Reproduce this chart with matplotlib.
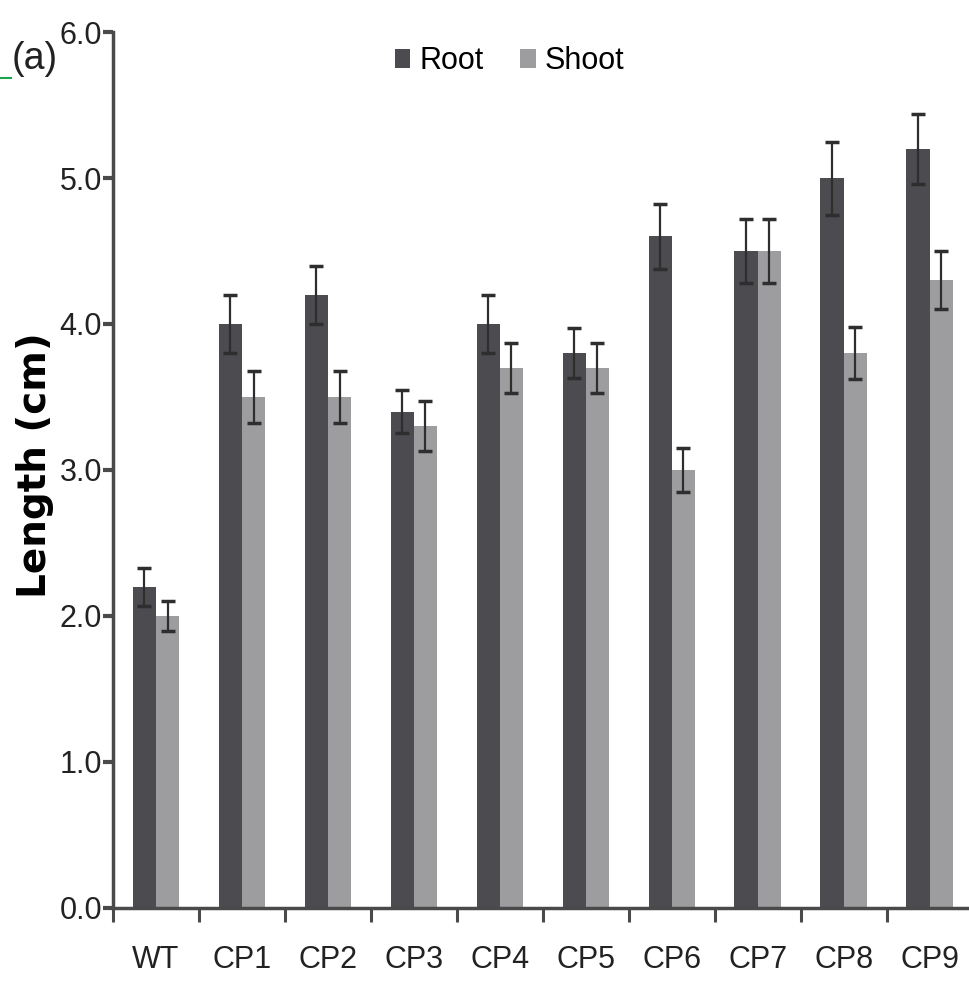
import numpy as np
import matplotlib
matplotlib.use('Agg')
import matplotlib.pyplot as plt
from matplotlib.lines import Line2D

plt.rcParams['font.family'] = ['Liberation Sans', 'DejaVu Sans']

# data
groups     = ['WT', 'CP1', 'CP2', 'CP3', 'CP4', 'CP5', 'CP6', 'CP7', 'CP8', 'CP9']
root       = [2.2, 4.0, 4.2, 3.4, 4.0, 3.8, 4.6, 4.5, 5.0, 5.2]
root_err   = [0.13, 0.2, 0.2, 0.15, 0.2, 0.17, 0.22, 0.22, 0.25, 0.24]
shoot      = [2.0, 3.5, 3.5, 3.3, 3.7, 3.7, 3.0, 4.5, 3.8, 4.3]
shoot_err  = [0.1, 0.18, 0.18, 0.17, 0.17, 0.17, 0.15, 0.22, 0.18, 0.2]
yticks     = [0.0, 1.0, 2.0, 3.0, 4.0, 5.0, 6.0]

root_col  = '#4b4b50'
shoot_col = '#9d9d9f'
axis_col  = '#4a4a4a'

fig = plt.figure( figsize = ( 9.70, 9.82 ), dpi = 100 )
ax  = fig.add_axes( [ 0.1165, 0.0754, 0.8835, 0.892 ] )

x = np.arange( len( groups ) )
w = 0.27

ax.bar( x - w/2, root,  w, color = root_col,  label = 'Root',  zorder = 2 )
ax.bar( x + w/2, shoot, w, color = shoot_col, label = 'Shoot', zorder = 2 )

ekw = dict( fmt = 'none', ecolor = '#2e2e2e', elinewidth = 1.6,
            capsize = 5, capthick = 2.5, zorder = 3 )
ax.errorbar( x - w/2, root,  yerr = root_err,  **ekw )
ax.errorbar( x + w/2, shoot, yerr = shoot_err, **ekw )

ax.set_xlim( -0.5, 9.47 )
ax.set_ylim( 0.0, 6.0 )

ax.spines['top'].set_visible( False )
ax.spines['right'].set_visible( False )
for s in [ 'left', 'bottom' ]:
    ax.spines[s].set_color( axis_col )
    ax.spines[s].set_linewidth( 2.5 )

ax.set_yticks( yticks )
ax.set_yticklabels( [ '{:.1f}'.format( t ) for t in yticks ] )
ax.tick_params( axis = 'y', length = 7, width = 3, color = axis_col,
                labelsize = 22, pad = 1, labelcolor = '#222222' )

ax.set_xticks( x )
ax.set_xticklabels( groups )
ax.set_xticks( np.concatenate( ( [ -0.5 ], x[:-1] + 0.5 ) ), minor = True )
ax.tick_params( axis = 'x', which = 'major', length = 0, pad = 27,
                labelsize = 22, labelcolor = '#222222' )
ax.tick_params( axis = 'x', which = 'minor', length = 10, width = 2.2,
                color = axis_col )

ax.set_ylabel( 'Length (cm)', fontsize = 28, fontweight = 'bold',
               family = [ 'DejaVu Sans' ] )
ax.yaxis.set_label_coords( -0.091, 0.506 )
ax.yaxis.label.set_va( 'center' )

leg = ax.legend( loc = 'upper center', bbox_to_anchor = ( 0.463, 1.015 ),
                 ncol = 2, frameon = False, fontsize = 22,
                 handlelength = 0.5, handleheight = 0.6,
                 handletextpad = 0.3, columnspacing = 1.2 )

fig.text( 0.012, 0.93, '(a)', fontsize = 27, color = '#222222' )
fig.add_artist( Line2D( [ 0.0, 0.011 ], [ 0.921, 0.921 ],
                        color = '#1aa64a', linewidth = 1.5 ) )

plt.savefig( 'out.png', dpi = 100 )
plt.close()
